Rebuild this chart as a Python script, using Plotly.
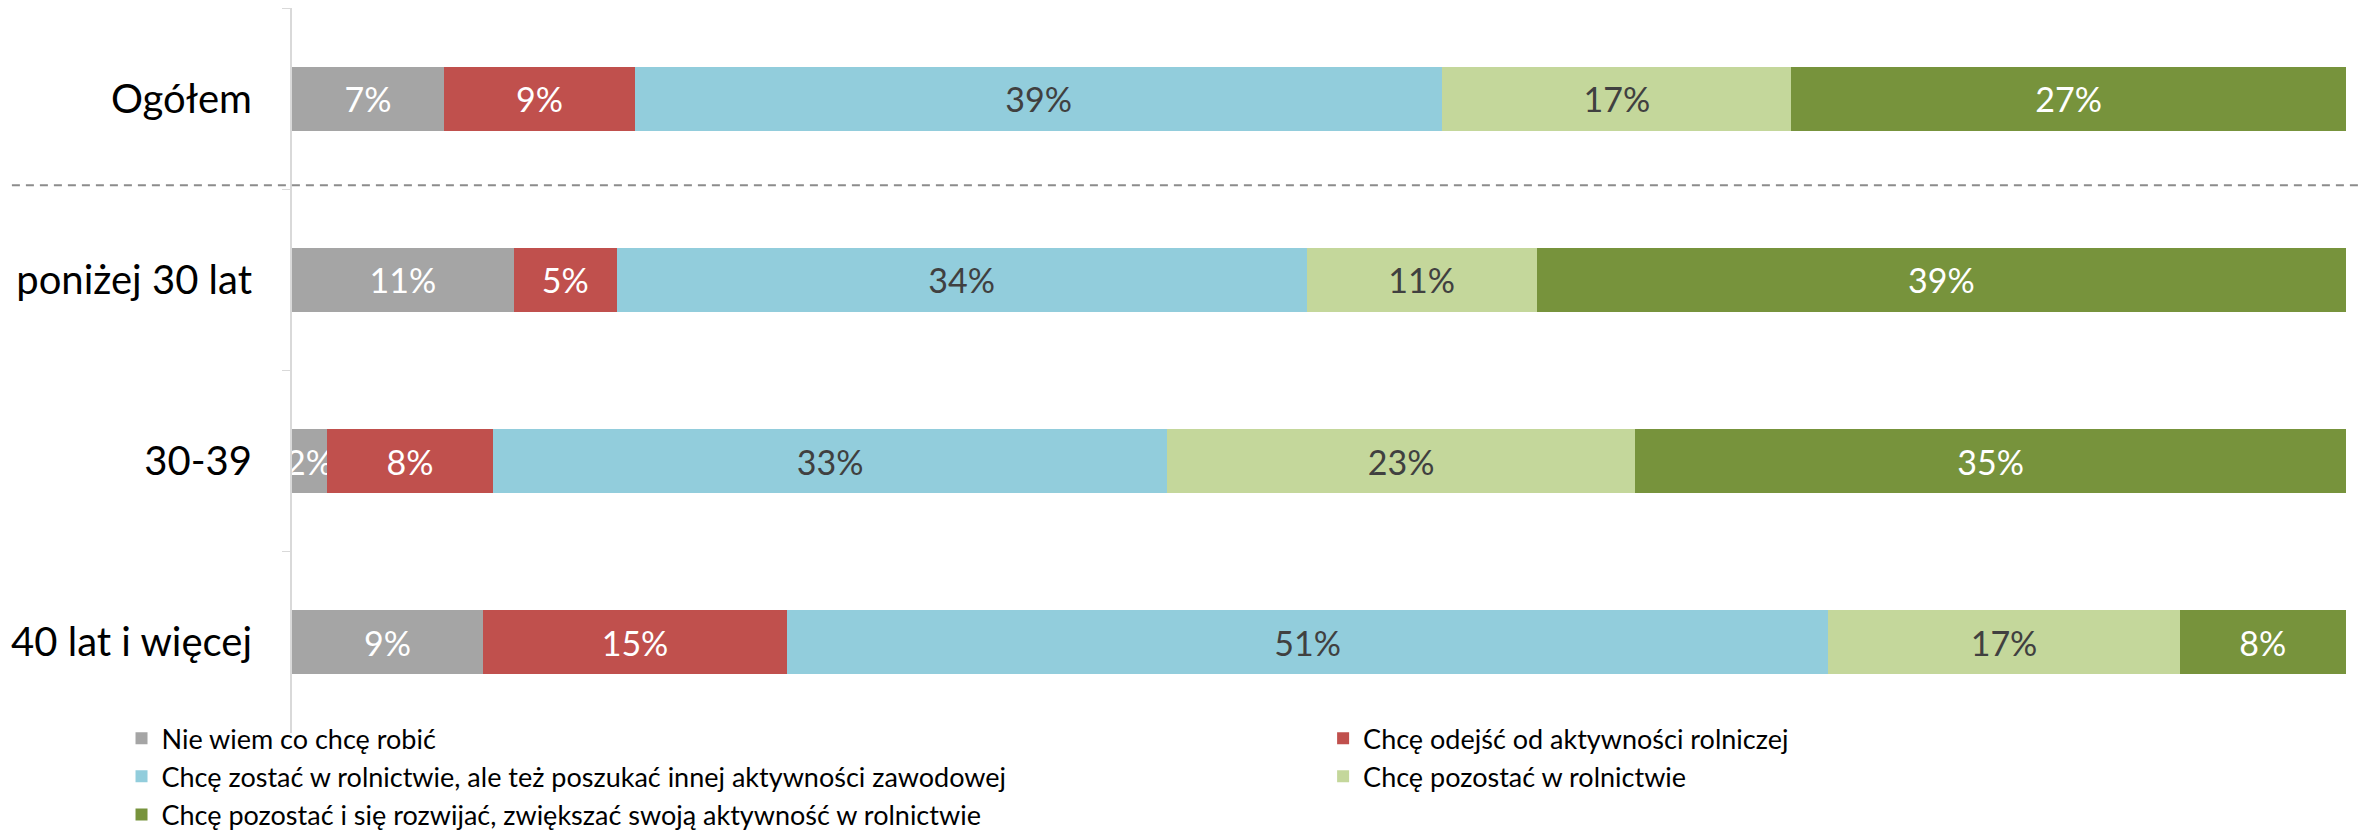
import plotly.graph_objects as go

# kategorie (od góry)
groups = ["Ogółem", "poniżej 30 lat", "30-39", "40 lat i więcej"]

# udziały odpowiedzi w %
nie_wiem = [7.4, 10.8, 1.7, 9.3]
odejsc = [9.3, 5.0, 8.1, 14.8]
zostac_inna = [39.3, 33.6, 32.8, 50.7]
pozostac = [17.0, 11.2, 22.8, 17.1]
rozwijac = [27.0, 39.4, 34.6, 8.1]

# nazwa, dane, kolor, kolor etykiety, legenda (kolumna)
series = [
    ("Nie wiem co chcę robić", nie_wiem, "#A5A5A5", "white", "legend"),
    ("Chcę odejść od aktywności rolniczej", odejsc, "#C0504D", "white", "legend2"),
    ("Chcę zostać w rolnictwie, ale też poszukać innej aktywności zawodowej", zostac_inna, "#92CDDC", "#404040", "legend"),
    ("Chcę pozostać w rolnictwie", pozostac, "#C4D79B", "#404040", "legend2"),
    ("Chcę pozostać i się rozwijać, zwiększać swoją aktywność w rolnictwie", rozwijac, "#77933C", "white", "legend"),
]

FONT = "Lato, 'Open Sans', sans-serif"

fig = go.Figure()
for name, vals, color, txtcolor, leg in series:
    fig.add_trace(go.Bar(
        y=groups, x=vals, name=name, orientation="h", legend=leg,
        marker=dict(color=color, line=dict(width=0)),
        text=vals, texttemplate="%{x:.0f}%",
        textposition="inside", insidetextanchor="middle",
        textangle=0, constraintext="none",
        textfont=dict(color=txtcolor, size=34, family=FONT),
        hoverinfo="skip",
    ))

# przerywana linia oddzielająca "Ogółem" od grup wiekowych
fig.add_shape(type="line", xref="paper", yref="y",
              x0=-0.15, x1=1.02, y0=0.478, y1=0.478,
              line=dict(color="#8C8C8C", width=2, dash="8px,6px"))

legend_style = dict(
    orientation="v", xanchor="left", y=0.026, yanchor="top",
    font=dict(size=27, family=FONT, color="black"),
    traceorder="normal", itemclick=False, bgcolor="rgba(0,0,0,0)",
)

fig.update_layout(
    barmode="stack",
    bargap=0.647,
    width=2369, height=834,
    margin=dict(l=284, r=31, t=0, b=109, autoexpand=False),
    plot_bgcolor="white", paper_bgcolor="white",
    font=dict(family=FONT, color="black"),
    uniformtext=dict(minsize=34, mode="show"),
    legend=dict(x=-0.083, **legend_style),
    legend2=dict(x=0.502, **legend_style),
)
fig.update_xaxes(range=[0, 100], visible=False, fixedrange=True)
fig.update_yaxes(
    categoryorder="array", categoryarray=groups, autorange="reversed",
    showline=True, linecolor="#D9D9D9", linewidth=2,
    ticks="outside", tickson="boundaries", ticklen=8, tickcolor="#D9D9D9",
    tickfont=dict(size=40, family=FONT, color="black"),
    showgrid=False, ticklabelstandoff=30,
)

fig.write_html("out.html")
